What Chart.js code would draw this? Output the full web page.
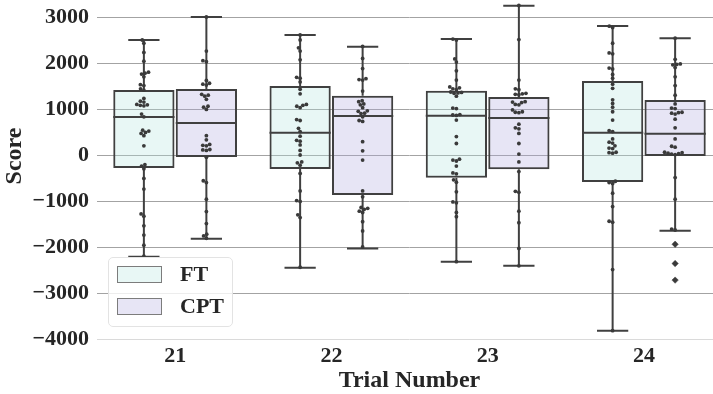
<!DOCTYPE html>
<html>
<head>
<meta charset="utf-8">
<script src="https://cdn.jsdelivr.net/npm/chart.js@4/dist/chart.umd.min.js"></script>
<style>
html,body{margin:0;padding:0;background:#fff;}
#wrap{position:relative;width:713px;height:394px;overflow:hidden;}
#c{position:absolute;left:0;top:-27px;}
#legend{position:absolute;left:108px;top:257px;width:125px;height:70px;border:1px solid #e3e3e3;border-radius:5px;background:rgba(255,255,255,0.8);box-sizing:border-box;font:bold 22px "Liberation Serif","Times New Roman",serif;color:#262626;}
#legend .sw{position:absolute;left:8px;width:45px;height:17px;border:1.3px solid #7c7c7c;box-sizing:border-box;}
#legend .tx{position:absolute;left:71px;line-height:22px;white-space:nowrap;}
</style>
</head>
<body>
<div id="wrap">
<canvas id="c" width="722" height="421"></canvas>
<div id="legend">
  <div class="sw" style="top:8px;background:#e8f7f5"></div><div class="tx" style="top:5px">FT</div>
  <div class="sw" style="top:40px;background:#e7e5f5"></div><div class="tx" style="top:37px">CPT</div>
</div>
</div>
<script>
// ---------------- data ----------------
const categories = ['21', '22', '23', '24'];
const yTicks = [-4000, -3000, -2000, -1000, 0, 1000, 2000, 3000];

// box statistics
const ftQ1 = [-283, -304, -493, -587];
const ftMedian = [826, 485, 855, 485];
const ftQ3 = [1413, 1500, 1398, 1609];
const ftWhiskerLow = [-2210, -2450, -2319, -3819];
const ftWhiskerHigh = [2500, 2609, 2522, 2804];

const cptQ1 = [-45, -870, -312, -22];
const cptMedian = [696, 848, 804, 463];
const cptQ3 = [1435, 1290, 1261, 1196];
const cptWhiskerLow = [-1820, -2030, -2406, -1645];
const cptWhiskerHigh = [3000, 2355, 3246, 2536];

// individual scores (swarm points)
const ft21 = [2500, 2430, 2230, 2040, 1800, 1780, 1760, 1700, 1530, 1510, 1440, 1410, 1230, 1170, 1150, 1100, 1090, 1080, 1070, 890, 830, 540, 520, 490, 470, 420, 200, -210, -240, -300, -510, -740, -1280, -1330, -1540, -1740, -1960, -2200];
const cpt21 = [3000, 2260, 2050, 2030, 1620, 1560, 1540, 1520, 1320, 1300, 1280, 1210, 1060, 1040, 990, 420, 330, 230, 210, 200, 120, 110, 100, -50, -560, -600, -960, -1230, -1490, -1720, -1760, -1810];
const ft22 = [2610, 2500, 2330, 2260, 2070, 1690, 1670, 1590, 1430, 1330, 1100, 1080, 1060, 1030, 770, 750, 580, 510, 410, 320, 300, 220, 100, 0, -150, -170, -220, -400, -780, -990, -1010, -1300, -1360, -2440];
const cpt22 = [2360, 2100, 1880, 1660, 1640, 1630, 1390, 1180, 1160, 1110, 1090, 1030, 960, 950, 910, 900, 830, 750, 730, 290, 90, -110, -780, -910, -1140, -1160, -1180, -1220, -1250, -1450, -1650, -2000];
const ft23 = [2520, 2500, 2090, 2020, 1830, 1630, 1480, 1460, 1440, 1420, 1370, 1360, 1350, 1340, 1280, 1020, 1010, 880, 870, 860, 760, 400, 250, -90, -110, -130, -240, -390, -410, -540, -590, -800, -1020, -1040, -1250, -1340, -2320];
const cpt23 = [3250, 2510, 1630, 1440, 1420, 1340, 1330, 1320, 1310, 1160, 1150, 1140, 1100, 1090, 980, 940, 930, 920, 670, 590, 570, 470, 250, 20, -150, -360, -790, -810, -1220, -1470, -2030, -2410];
const ft24 = [2800, 2770, 2430, 2220, 2200, 1890, 1870, 1750, 1670, 1540, 1450, 1200, 1120, 1040, 940, 760, 530, 510, 350, 280, 260, 200, 150, 140, 60, 50, 40, -570, -600, -620, -830, -1120, -1440, -1460, -2490, -3820];
const cpt24 = [2540, 2080, 1980, 1970, 1960, 1900, 1700, 1510, 1300, 1110, 1020, 1010, 930, 920, 910, 890, 780, 590, 350, 190, 170, 60, 50, 40, 30, 20, 10, -490, -960, -1610, -1630];
const cpt24Outliers = [-1940, -2360, -2720];

const ftScores = [ft21, ft22, ft23, ft24];
const cptScores = [cpt21, cpt22, cpt23, cpt24];

// ---------------- styling ----------------
const FONT = '"Liberation Serif","Times New Roman",serif';
const TEXT = '#262626';
const EDGE = '#404040';
const DOT = '#3a3a3a';
const ftFill = 'rgba(178,228,222,0.3)';
const cptFill = 'rgba(175,168,222,0.3)';
const HUE_OFF = 0.2;
const BOX_HALF = 0.196;
const CAP_HALF = 0.1;

Chart.defaults.font.family = FONT;
Chart.defaults.color = TEXT;

function boxBars(q1, q3, off) {
  return categories.map((c, i) => ({x: i + off, y: [q1[i], q3[i]]}));
}
function boxLines(q1, med, q3, lo, hi, off) {
  const pts = [];
  categories.forEach((c, i) => {
    const x = i + off;
    pts.push({x, y: q3[i]}, {x, y: hi[i]}, {x, y: null});
    pts.push({x, y: q1[i]}, {x, y: lo[i]}, {x, y: null});
    pts.push({x: x - CAP_HALF, y: hi[i]}, {x: x + CAP_HALF, y: hi[i]}, {x, y: null});
    pts.push({x: x - CAP_HALF, y: lo[i]}, {x: x + CAP_HALF, y: lo[i]}, {x, y: null});
    pts.push({x: x - BOX_HALF, y: med[i]}, {x: x + BOX_HALF, y: med[i]}, {x, y: null});
  });
  return pts;
}
const lineStyle = {type: 'line', borderColor: EDGE, borderWidth: 2, pointRadius: 0, fill: false, spanGaps: false, tension: 0, borderCapStyle: 'butt', order: 1};

const chart = new Chart(document.getElementById('c'), {
  type: 'bar',
  data: {
    datasets: [
      {label: 'swarm', type: 'scatter', data: [], pointRadius: 1.9, pointBackgroundColor: DOT, pointBorderWidth: 0, order: 0},
      {label: 'outliers', type: 'scatter', data: cpt24Outliers.map(v => ({x: 3 + HUE_OFF, y: v})), pointStyle: 'rectRot', pointRadius: 3.2, pointBackgroundColor: DOT, pointBorderColor: DOT, pointBorderWidth: 0.5, order: 0},
      Object.assign({label: 'FT lines', data: boxLines(ftQ1, ftMedian, ftQ3, ftWhiskerLow, ftWhiskerHigh, -HUE_OFF)}, lineStyle),
      Object.assign({label: 'CPT lines', data: boxLines(cptQ1, cptMedian, cptQ3, cptWhiskerLow, cptWhiskerHigh, HUE_OFF)}, lineStyle),
      {label: 'FT', data: boxBars(ftQ1, ftQ3, -HUE_OFF), backgroundColor: ftFill, borderColor: EDGE, borderWidth: 2, borderSkipped: false, grouped: false, barPercentage: 0.98, categoryPercentage: 1, order: 2},
      {label: 'CPT', data: boxBars(cptQ1, cptQ3, HUE_OFF), backgroundColor: cptFill, borderColor: EDGE, borderWidth: 2, borderSkipped: false, grouped: false, barPercentage: 0.98, categoryPercentage: 1, order: 2}
    ]
  },
  options: {
    responsive: false,
    animation: false,
    events: [],
    layout: {padding: 0, autoPadding: false},
    plugins: {legend: {display: false}, tooltip: {enabled: false}},
    scales: {
      x: {
        type: 'linear',
        min: -0.5,
        max: 3.5,
        offset: false,
        grid: {display: false, drawTicks: false},
        border: {display: false},
        afterBuildTicks: s => { s.ticks = categories.map((c, i) => ({value: i})); },
        afterFit: s => { s.height = 55; s.paddingLeft = 0; s.paddingRight = 0; },
        ticks: {
          callback: v => categories[v],
          font: {size: 22, weight: 'bold', family: FONT},
          color: TEXT,
          padding: 4,
          maxRotation: 0,
          autoSkip: false
        },
        title: {display: true, text: 'Trial Number', font: {size: 24, weight: 'bold', family: FONT, lineHeight: 1}, color: TEXT, padding: {top: 0, bottom: 1}}
      },
      y: {
        type: 'linear',
        min: -4000,
        max: 3957,
        grid: {drawTicks: false, lineWidth: 1, color: ctx => (ctx.tick && ctx.tick.value === -4000) ? '#dadada' : '#a3a3a3'},
        border: {display: false},
        afterBuildTicks: s => { s.ticks = yTicks.map(v => ({value: v})); },
        afterFit: s => { s.width = 97; s.paddingTop = 0; s.paddingBottom = 0; },
        ticks: {
          callback: v => (v < 0 ? '\u2212' + Math.abs(v) : String(v)),
          font: {size: 22, weight: 'bold', family: FONT},
          color: TEXT,
          padding: 8
        },
        title: {display: true, text: 'Score', font: {size: 24, weight: 'bold', family: FONT, lineHeight: 1}, color: TEXT, padding: {top: 3, bottom: 0}}
      }
    }
  }
});

// beeswarm layout computed in pixel space from the chart's own scales
function swarmOffsets(values, yScale, d) {
  const order = values.map((v, i) => i).sort((a, b) => values[a] - values[b]);
  const placed = [];
  const offs = new Array(values.length).fill(0);
  order.forEach(i => {
    const py = yScale.getPixelForValue(values[i]);
    const neigh = placed.filter(p => Math.abs(p.y - py) < d);
    const cands = [0];
    neigh.forEach(p => {
      const dy = p.y - py;
      const dx = Math.sqrt(Math.max(d * d - dy * dy, 0));
      cands.push(p.x - dx, p.x + dx);
    });
    cands.sort((a, b) => Math.abs(a) - Math.abs(b));
    let chosen = 0;
    for (const c of cands) {
      if (neigh.every(p => Math.hypot(p.x - c, p.y - py) >= d - 1e-6)) { chosen = c; break; }
    }
    placed.push({x: chosen, y: py});
    offs[i] = chosen;
  });
  return offs;
}

(function placeSwarm() {
  const xs = chart.scales.x, ys = chart.scales.y;
  const pts = [];
  const add = (groups, off) => {
    groups.forEach((vals, i) => {
      const cx = xs.getPixelForValue(i + off);
      const offs = swarmOffsets(vals, ys, 3.6);
      vals.forEach((v, k) => pts.push({x: xs.getValueForPixel(cx + offs[k]), y: v}));
    });
  };
  add(ftScores, -HUE_OFF);
  add(cptScores, HUE_OFF);
  chart.data.datasets[0].data = pts;
  chart.update('none');
})();
</script>
</body>
</html>
